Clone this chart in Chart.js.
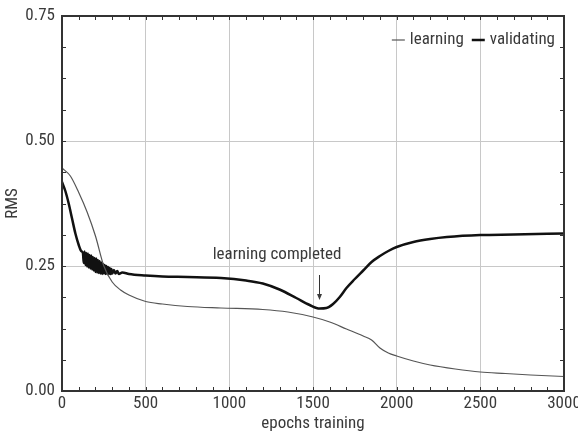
<!DOCTYPE html>
<html>
<head>
<meta charset="utf-8">
<script src="https://cdn.jsdelivr.net/npm/chart.js@4/dist/chart.umd.min.js"></script>
<style>
  html, body { margin: 0; padding: 0; background: #fff; }
  #wrap { width: 578px; height: 434px; }
</style>
</head>
<body>
<div id="wrap"><canvas id="rmsChart" width="578" height="434"></canvas></div>
<script>
const learningEpochs = [0, 50, 100, 150, 200, 250, 300, 350, 400, 500, 600, 750, 950, 1200, 1350, 1500, 1600, 1700, 1800, 1850, 1900, 1950, 2000, 2100, 2200, 2350, 2500, 2650, 2800, 3000];
const learningRms = [0.446, 0.43, 0.397, 0.358, 0.31, 0.25, 0.218, 0.202, 0.192, 0.179, 0.174, 0.169, 0.166, 0.163, 0.158, 0.148, 0.138, 0.124, 0.110, 0.102, 0.086, 0.076, 0.070, 0.060, 0.052, 0.044, 0.038, 0.035, 0.032, 0.029];

const validatingEpochs = [0, 20, 40, 60, 80, 100, 115,
  125, 130, 135, 140, 145, 150, 155, 160, 165, 170, 175, 180, 185, 190, 195, 200,
  205, 210, 215, 220, 225, 230, 235, 240, 245, 250, 255, 260, 265, 270, 275, 280,
  285, 290, 295, 300, 310, 320, 330, 340, 360,
  400, 500, 600, 750, 950, 1100, 1200, 1300, 1400, 1480, 1540, 1580, 1620, 1660, 1700, 1750, 1800, 1850, 1900, 1950, 2000, 2100, 2200, 2300, 2500, 2700, 3000];
const validatingRms = [0.418, 0.40, 0.375, 0.345, 0.315, 0.292, 0.28,
  0.276, 0.256, 0.279, 0.252, 0.276, 0.249, 0.275, 0.247, 0.272, 0.245, 0.271, 0.243, 0.268, 0.241, 0.266, 0.238,
  0.265, 0.237, 0.262, 0.236, 0.260, 0.235, 0.257, 0.234, 0.254, 0.235, 0.252, 0.234, 0.250, 0.234, 0.248, 0.234,
  0.246, 0.234, 0.244, 0.235, 0.242, 0.235, 0.240, 0.234, 0.237,
  0.234, 0.231, 0.229, 0.228, 0.226, 0.221, 0.215, 0.203, 0.186, 0.172, 0.165, 0.166, 0.174, 0.188, 0.206, 0.224, 0.241, 0.258, 0.270, 0.280, 0.288, 0.298, 0.304, 0.308, 0.312, 0.313, 0.315];

const xMajorTicks = [0, 500, 1000, 1500, 2000, 2500, 3000];
const yMajorTicks = [0, 0.25, 0.5, 0.75];
const xMinorStep = 100;
const yMinorStep = 0.0625;

// annotation, in data units
const noteText = "learning completed";
const noteAt = { x: 1285, y: 0.264 };
const arrowFrom = { x: 1536, y: 0.232 };
const arrowTo = { x: 1536, y: 0.182 };

// pick a condensed face if one is there, else squeeze Roboto a little
function hasFont(name) {
  const c = document.createElement("canvas").getContext("2d");
  c.font = "20px monospace";
  const base = c.measureText("epochs training 0.25").width;
  c.font = `20px '${name}', monospace`;
  return c.measureText("epochs training 0.25").width !== base;
}
const condensed = ["Roboto Condensed", "Liberation Sans Narrow", "DejaVu Sans Condensed", "Open Sans Condensed"].find(hasFont);
const fontFamily = condensed ? `'${condensed}', sans-serif` : "Roboto, sans-serif";
const fontSize = condensed ? 17 : 16;
const squeeze = condensed ? "0px" : "-0.4px";
const textColor = "#3a3a3a";

const squeezeText = {
  id: "squeezeText",
  beforeLayout(chart) { chart.ctx.letterSpacing = squeeze; },
  beforeDraw(chart) { chart.ctx.letterSpacing = squeeze; },
};

const frameAndTicks = {
  id: "frameAndTicks",
  afterDatasetsDraw(chart) {
    const { ctx, chartArea: a, scales } = chart;
    const xs = scales.x, ys = scales.y;
    ctx.save();
    ctx.strokeStyle = "#333";
    ctx.lineWidth = 1;
    ctx.beginPath();
    for (let v = xMinorStep; v < 3000; v += xMinorStep) {
      const px = Math.round(xs.getPixelForValue(v)) + 0.5;
      ctx.moveTo(px, a.bottom); ctx.lineTo(px, a.bottom - 4);
      ctx.moveTo(px, a.top); ctx.lineTo(px, a.top + 4);
    }
    for (let v = yMinorStep; v < 0.75; v += yMinorStep) {
      const py = Math.round(ys.getPixelForValue(v)) + 0.5;
      ctx.moveTo(a.left, py); ctx.lineTo(a.left + 4, py);
      ctx.moveTo(a.right, py); ctx.lineTo(a.right - 4, py);
    }
    ctx.stroke();
    ctx.lineWidth = 2;
    ctx.strokeRect(a.left, a.top, a.right - a.left, a.bottom - a.top);

    ctx.letterSpacing = squeeze;
    ctx.font = `${fontSize}px ${fontFamily}`;
    ctx.fillStyle = textColor;

    // annotation
    ctx.textAlign = "center";
    ctx.textBaseline = "alphabetic";
    ctx.fillText(noteText, xs.getPixelForValue(noteAt.x), ys.getPixelForValue(noteAt.y));
    const ax = Math.round(xs.getPixelForValue(arrowFrom.x)) + 0.5;
    const ay1 = ys.getPixelForValue(arrowFrom.y);
    const ay2 = ys.getPixelForValue(arrowTo.y);
    ctx.lineWidth = 1;
    ctx.beginPath();
    ctx.moveTo(ax, ay1); ctx.lineTo(ax, ay2 - 4);
    ctx.stroke();
    ctx.beginPath();
    ctx.moveTo(ax - 2.5, ay2 - 6); ctx.lineTo(ax + 2.5, ay2 - 6); ctx.lineTo(ax, ay2);
    ctx.closePath();
    ctx.fill();

    // legend, top right inside the plot
    ctx.textAlign = "left";
    ctx.textBaseline = "middle";
    const ly = a.top + 24;
    let lx = a.right - 9;
    chart.data.datasets.slice().reverse().forEach((ds) => {
      const w = ctx.measureText(ds.label).width;
      lx -= w;
      ctx.fillStyle = textColor;
      ctx.fillText(ds.label, lx, ly);
      ctx.strokeStyle = ds.borderColor;
      ctx.lineWidth = ds.borderWidth;
      ctx.beginPath();
      ctx.moveTo(lx - 18, ly); ctx.lineTo(lx - 5, ly);
      ctx.stroke();
      lx -= 26;
    });
    ctx.restore();
  }
};

const ctx = document.getElementById("rmsChart").getContext("2d");
const rmsChart = new Chart(ctx, {
  type: "scatter",
  data: {
    datasets: [
      {
        label: "learning",
        data: learningEpochs.map((e, i) => ({ x: e, y: learningRms[i] })),
        showLine: true,
        borderColor: "#555",
        backgroundColor: "#555",
        borderWidth: 1.2,
        pointRadius: 0,
        cubicInterpolationMode: "monotone",
      },
      {
        label: "validating",
        data: validatingEpochs.map((e, i) => ({ x: e, y: validatingRms[i] })),
        showLine: true,
        borderColor: "#111",
        backgroundColor: "#111",
        borderWidth: 2.5,
        pointRadius: 0,
        cubicInterpolationMode: "monotone",
      },
    ],
  },
  options: {
    responsive: false,
    animation: false,
    devicePixelRatio: 1,
    layout: { padding: { top: 16, right: 14, left: 0, bottom: 0 } },
    scales: {
      x: {
        type: "linear",
        min: 0,
        max: 3000,
        afterBuildTicks: (s) => { s.ticks = xMajorTicks.map((v) => ({ value: v })); },
        afterFit: (s) => { s.height = 43; s.paddingLeft = 0; s.paddingRight = 0; },
        grid: { color: "#c8c8c8", lineWidth: 1, drawTicks: false },
        border: { display: false },
        ticks: { color: textColor, padding: 3, maxRotation: 0, callback: (v) => String(v), font: { family: fontFamily, size: fontSize } },
        title: { display: true, text: "epochs training", color: textColor, padding: 0, font: { family: fontFamily, size: fontSize } },
      },
      y: {
        min: 0,
        max: 0.75,
        afterBuildTicks: (s) => { s.ticks = yMajorTicks.map((v) => ({ value: v })); },
        afterFit: (s) => { s.width = 62; s.paddingTop = 0; s.paddingBottom = 0; },
        grid: { color: "#c8c8c8", lineWidth: 1, drawTicks: false },
        border: { display: false },
        ticks: { color: textColor, padding: 7, callback: (v) => v.toFixed(2), font: { family: fontFamily, size: fontSize } },
        title: { display: true, text: "RMS", color: textColor, padding: 3, font: { family: fontFamily, size: fontSize } },
      },
    },
    plugins: {
      legend: { display: false },
      tooltip: { enabled: false },
    },
  },
  plugins: [squeezeText, frameAndTicks],
});
</script>
</body>
</html>
